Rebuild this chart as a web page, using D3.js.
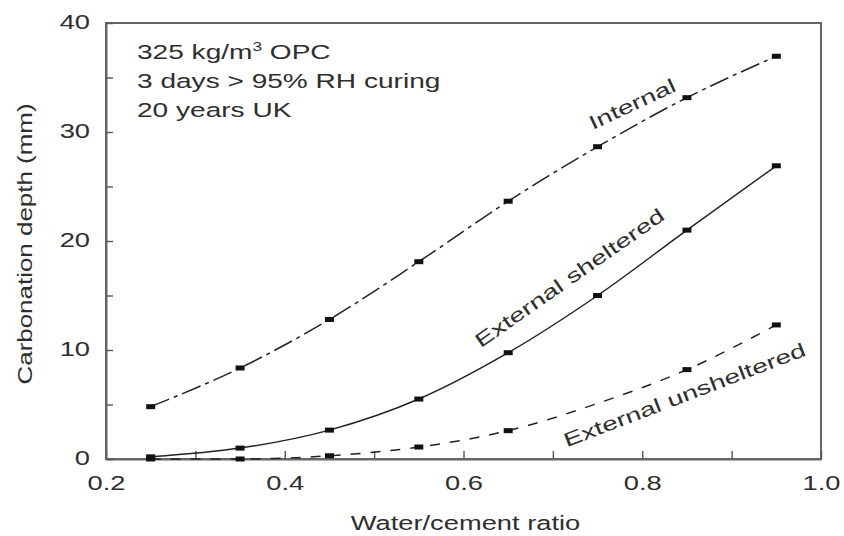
<!DOCTYPE html>
<html>
<head>
<meta charset="utf-8">
<script src="https://cdn.jsdelivr.net/npm/d3@7"></script>
<style>
  body { margin: 0; background: #fff; }
  text { font-family: "Liberation Sans", Arial, sans-serif; fill: #2e2e2e; }
</style>
</head>
<body>
<div id="chart"></div>
<script>
// data
var wcRatio = [0.25, 0.35, 0.45, 0.55, 0.65, 0.75, 0.85, 0.95];
var internal = [4.8, 8.35, 12.8, 18.1, 23.65, 28.65, 33.15, 36.95];
var sheltered = [0.2, 1.0, 2.65, 5.5, 9.75, 15.0, 21.0, 26.9];
var unsheltered = [0.0, 0.0, 0.3, 1.1, 2.6, 5.1, 8.2, 12.3];
var unshelteredMarked = [true, true, true, true, true, false, true, true];

var xTicks = [0.2, 0.3, 0.4, 0.5, 0.6, 0.7, 0.8, 0.9, 1.0];
var xLabels = [0.2, 0.4, 0.6, 0.8, 1.0];
var yTicks = [0, 5, 10, 15, 20, 25, 30, 35, 40];
var yLabels = [0, 10, 20, 30, 40];

var notes = ["325 kg/m", "3 days > 95% RH curing", "20 years UK"];

// set the dimensions and margins of the graph
var margin = { top: 23, right: 23, bottom: 77, left: 106 },
    fullW = 844, fullH = 536,
    width = fullW - margin.left - margin.right,
    height = fullH - margin.top - margin.bottom;

var stretch = 1.44;  // the lettering in the figure is wide
var fontSize = 19.5;

var svg = d3.select("#chart")
  .append("svg")
    .attr("width", fullW)
    .attr("height", fullH)

var g = svg.append("g")
    .attr("transform", "translate(" + margin.left + "," + margin.top + ")")

var x = d3.scaleLinear().domain([0.2, 1.0]).range([0, width]);
var y = d3.scaleLinear().domain([0, 40]).range([height, 0]);

// frame
g.append("rect")
    .attr("width", width)
    .attr("height", height)
    .attr("fill", "none")
    .attr("stroke", "#666")
    .attr("stroke-width", 2)

// axes, ticks pointing inward
var xAxis = g.append("g")
    .attr("transform", "translate(0," + height + ")")
    .call(d3.axisBottom(x)
        .tickValues(xTicks)
        .tickSizeInner(-8)
        .tickSizeOuter(0)
        .tickFormat(function (d) {
            return xLabels.some(function (v) { return Math.abs(v - d) < 1e-9 }) ? d3.format(".1f")(d) : "";
        }))

var yAxis = g.append("g")
    .call(d3.axisLeft(y)
        .tickValues(yTicks)
        .tickSizeInner(-7)
        .tickSizeOuter(0)
        .tickFormat(function (d) { return yLabels.indexOf(d) >= 0 ? d : ""; }))

g.selectAll(".domain").attr("stroke", "#666").attr("stroke-width", 2)
g.selectAll(".tick line").attr("stroke", "#555").attr("stroke-width", 1.4)

// stretch tick text horizontally around its anchor
xAxis.selectAll(".tick text")
    .attr("font-size", fontSize)
    .attr("fill", "#2e2e2e")
    .attr("y", null).attr("dy", null)
    .attr("dominant-baseline", "middle")
    .attr("transform", "translate(0,26) scale(1.4,1)")

yAxis.selectAll(".tick text")
    .attr("font-size", fontSize)
    .attr("fill", "#2e2e2e")
    .attr("x", null).attr("dy", null)
    .attr("dominant-baseline", "middle")
    .attr("transform", "translate(-16,0) scale(1.4,1)")

function label(parent, str, px, py, angle, anchor, sx) {
    return parent.append("text")
        .attr("font-size", fontSize)
        .attr("text-anchor", anchor || "middle")
        .attr("transform", "translate(" + px + "," + py + ") rotate(" + angle + ") scale(" + (sx || stretch) + ",1)")
        .text(str)
}

// axis titles
label(svg, "Water/cement ratio", margin.left + width / 2 + 2, 530, 0, "middle", 1.4);
label(svg, "Carbonation depth (mm)", 32, margin.top + height / 2 + 3, -90, "middle", 1.33);

// notes in the top left corner
var n1 = label(g, notes[0], 31, 36, 0, "start");
n1.append("tspan").attr("font-size", 12).attr("dy", -8).text("3");
n1.append("tspan").attr("dy", 8).text(" OPC");
label(g, notes[1], 31, 65, 0, "start");
label(g, notes[2], 31, 94, 0, "start");

// curves
var series = [
    { name: "Internal", values: internal, dash: "20,5,4,5", marked: null },
    { name: "External sheltered", values: sheltered, dash: null, marked: null },
    { name: "External unsheltered", values: unsheltered, dash: "10,10", marked: unshelteredMarked }
];

var line = d3.line()
    .x(function (d) { return x(d[0]); })
    .y(function (d) { return y(d[1]); })
    .curve(d3.curveMonotoneX)

series.forEach(function (s) {
    var pts = wcRatio.map(function (w, i) { return [w, s.values[i]]; });
    g.append("path")
        .datum(pts)
        .attr("d", line)
        .attr("fill", "none")
        .attr("stroke", "#222")
        .attr("stroke-width", 1.5)
        .attr("stroke-dasharray", s.dash)

    g.selectAll(null)
        .data(pts.filter(function (d, i) { return !s.marked || s.marked[i]; }))
        .enter()
        .append("rect")
        .attr("x", function (d) { return x(d[0]) - 4.5; })
        .attr("y", function (d) { return y(d[1]) - 2.5; })
        .attr("width", 9)
        .attr("height", 5)
        .attr("fill", "#111")
})

// curve names
label(g, "Internal", x(0.792), y(32.0), -25);
label(g, "External sheltered", x(0.723), y(16.1), -35);
label(g, "External unsheltered", x(0.85), y(5.3), -21);
</script>
</body>
</html>
